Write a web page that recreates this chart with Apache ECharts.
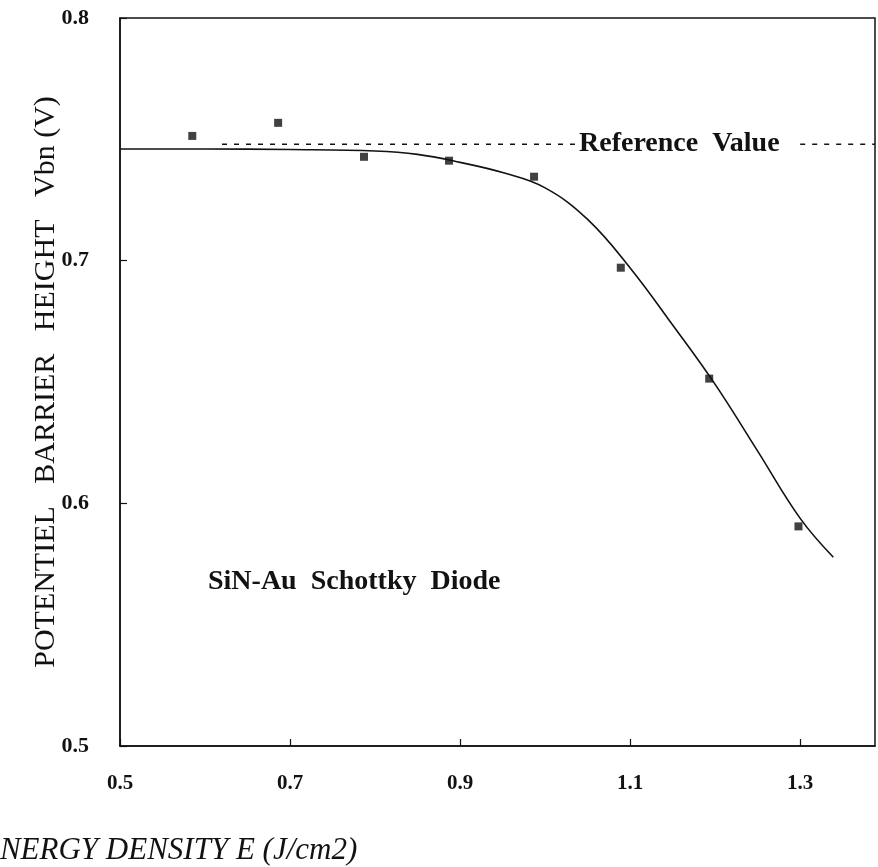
<!DOCTYPE html>
<html>
<head>
<meta charset="utf-8">
<title>Potential barrier height vs energy density</title>
<script src="https://cdn.jsdelivr.net/npm/echarts@6/dist/echarts.min.js"></script>
<style>
  html, body { margin: 0; padding: 0; background: #fff; }
  #chart { width: 878px; height: 867px; }
</style>
</head>
<body>
<div id="chart"></div>
<script>
// measured points (J/cm2, V)
const energy = [0.585, 0.686, 0.787, 0.887, 0.987, 1.089, 1.193, 1.298];
const barrier = [0.7514, 0.7568, 0.7428, 0.7412, 0.7346, 0.6971, 0.6514, 0.5905];

// fitted curve
const fitEnergy = [0.5, 0.6, 0.7, 0.8, 0.85, 0.9, 0.95, 1.0, 1.05, 1.1, 1.15, 1.2, 1.25, 1.3, 1.339];
const fitBarrier = [0.746, 0.746, 0.7458, 0.7452, 0.7438, 0.7405, 0.7363, 0.730, 0.717, 0.697, 0.6735, 0.649, 0.6215, 0.5938, 0.5778];

// reference value dashed line, broken where the label sits
const refValue = 0.748;
const refSegments = [[0.62, 1.035], [1.30, 1.388]];

const xTicks = [0.5, 0.7, 0.9, 1.1, 1.3];
const yTicks = [0.5, 0.6, 0.7, 0.8];

const ink = '#121212';
const serif = '"Liberation Serif", "DejaVu Serif", serif';

const chart = echarts.init(document.getElementById('chart'));

const option = {
  backgroundColor: '#fff',
  animation: false,
  grid: {
    left: 120,
    right: 3,
    top: 18,
    bottom: 121,
    show: true,
    borderColor: ink,
    borderWidth: 1.5,
  },
  xAxis: {
    type: 'value',
    min: xTicks[0],
    max: 1.388,
    interval: 0.2,
    axisLine: { onZero: false, lineStyle: { color: ink, width: 1.5 } },
    axisTick: { inside: true, length: 7, lineStyle: { color: ink, width: 1.2 } },
    axisLabel: {
      showMaxLabel: false,
      margin: 27,
      color: ink,
      fontFamily: serif,
      fontWeight: 'bold',
      fontSize: 21,
      formatter: (v) => v.toFixed(1),
    },
    splitLine: { show: false },
  },
  yAxis: {
    type: 'value',
    min: yTicks[0],
    max: yTicks[yTicks.length - 1],
    interval: 0.1,
    axisLine: { show: true, onZero: false, lineStyle: { color: ink, width: 1.5 } },
    axisTick: { show: true, inside: true, length: 7, lineStyle: { color: ink, width: 1.2 } },
    axisLabel: {
      margin: 31,
      color: ink,
      fontFamily: serif,
      fontWeight: 'bold',
      fontSize: 22,
      formatter: (v) => v.toFixed(1),
    },
    splitLine: { show: false },
  },
  series: [
    {
      name: 'Fit',
      type: 'line',
      data: fitEnergy.map((e, i) => [e, fitBarrier[i]]),
      smooth: 0.4,
      showSymbol: false,
      lineStyle: { color: ink, width: 1.6 },
      z: 2,
    },
    ...refSegments.map((seg) => ({
      name: 'Reference Value',
      type: 'line',
      data: seg.map((e) => [e, refValue]),
      showSymbol: false,
      lineStyle: { color: ink, width: 1.5, type: [5, 7] },
      z: 2,
    })),
    {
      name: 'Measured',
      type: 'scatter',
      data: energy.map((e, i) => [e, barrier[i]]),
      symbol: 'rect',
      symbolSize: 8,
      itemStyle: { color: ink },
      z: 3,
    },
  ],
  graphic: [
    {
      type: 'text',
      left: 579,
      top: 130,
      style: {
        text: 'Reference  Value',
        font: 'bold 28px ' + serif,
        fill: ink,
      },
    },
    {
      type: 'text',
      left: 208,
      top: 568,
      style: {
        text: 'SiN-Au  Schottky  Diode',
        font: 'bold 28px ' + serif,
        fill: ink,
      },
    },
    {
      type: 'text',
      x: 46,
      y: 382,
      rotation: Math.PI / 2,
      style: {
        text: 'POTENTIEL   BARRIER   HEIGHT   Vbn (V)',
        font: '30px ' + serif,
        fill: ink,
        align: 'center',
        verticalAlign: 'middle',
      },
    },
    {
      type: 'text',
      x: -19,
      y: 851,
      style: {
        text: 'ENERGY DENSITY E (J/cm2)',
        font: 'italic 31px ' + serif,
        fill: ink,
        align: 'left',
        verticalAlign: 'middle',
      },
    },
  ],
};

chart.setOption(option);
</script>
</body>
</html>
